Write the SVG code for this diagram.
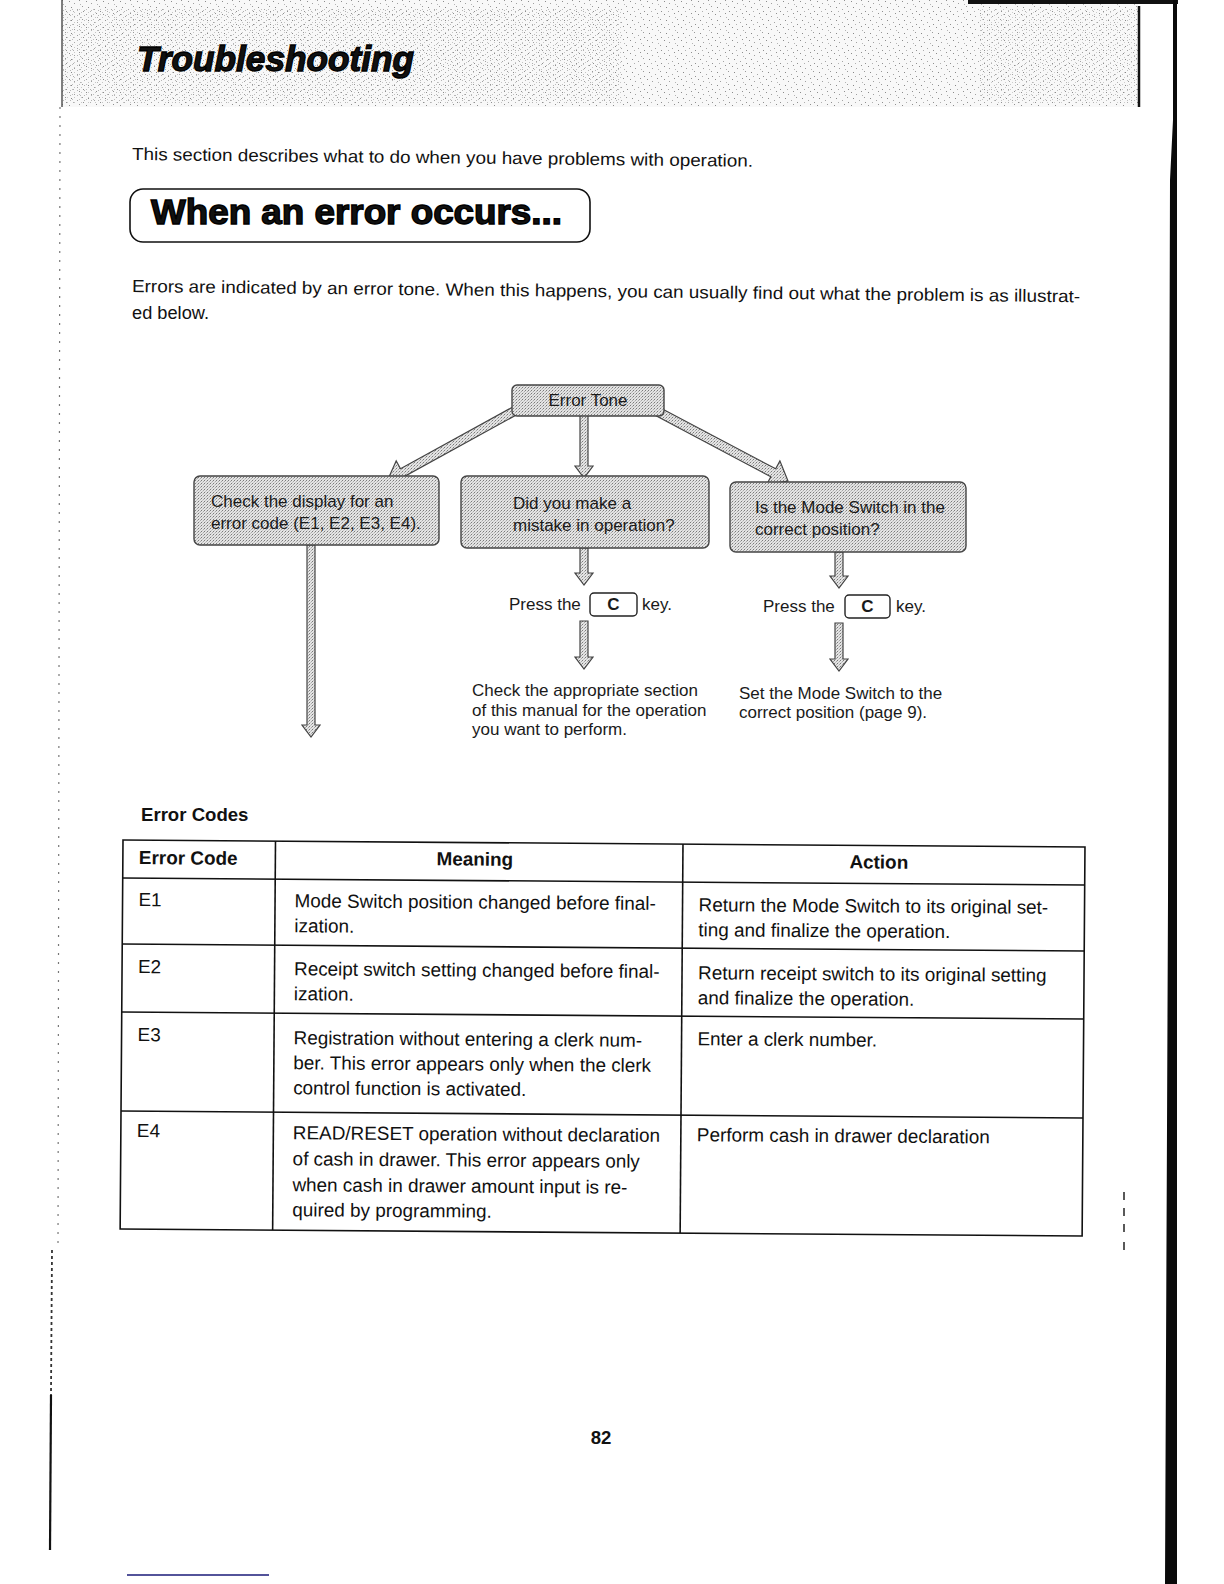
<svg xmlns="http://www.w3.org/2000/svg" width="1224" height="1584" viewBox="0 0 1224 1584">
<defs>
<pattern id="stip" width="3" height="3" patternUnits="userSpaceOnUse">
<rect width="3" height="3" fill="#e4e4e4"/>
<rect x="0" y="0" width="1" height="1" fill="#7a7a7a"/>
<rect x="2" y="1" width="1" height="1" fill="#a8a8a8"/>
<rect x="1" y="2" width="1" height="1" fill="#c2c2c2"/>
</pattern>
<pattern id="hdr" width="17" height="13" patternUnits="userSpaceOnUse">
<rect width="17" height="13" fill="#f8f8f8"/>
<rect x="1" y="1" width="1" height="1" fill="#8c8c8c"/>
<rect x="6" y="3" width="1" height="1" fill="#a0a0a0"/>
<rect x="11" y="0" width="1" height="1" fill="#909090"/>
<rect x="14" y="6" width="1" height="1" fill="#999"/>
<rect x="3" y="7" width="1" height="1" fill="#888"/>
<rect x="9" y="9" width="1" height="1" fill="#a5a5a5"/>
<rect x="15" y="11" width="1" height="1" fill="#8f8f8f"/>
<rect x="5" y="11" width="1" height="1" fill="#b0b0b0"/>
<rect x="12" y="4" width="1" height="1" fill="#b5b5b5"/>
</pattern>
<pattern id="hdr2" width="7" height="5" patternUnits="userSpaceOnUse">
<rect x="0" y="0" width="1" height="1" fill="#9a9a9a"/>
<rect x="4" y="2" width="1" height="1" fill="#b0b0b0"/>
<rect x="2" y="4" width="1" height="1" fill="#a5a5a5"/>
</pattern>
</defs>
<style>
text{font-family:"Liberation Sans",Arial,sans-serif;fill:#111}
.body{font-size:17.5px}
.fc{font-size:17px;fill:#1a1a1a}
.tb{font-size:18.9px}
.th{font-size:18.9px;font-weight:bold}
.box{fill:url(#stip);stroke:#444;stroke-width:1.4}
.ar{fill:url(#stip);stroke:#444;stroke-width:1.2;stroke-linejoin:miter}
.key{fill:#fff;stroke:#222;stroke-width:1.4}
.tl{stroke:#111;stroke-width:1.6;fill:none}
</style>

<!-- page edges -->
<g id="page-edges">
<rect x="62" y="0" width="1076" height="107" fill="url(#hdr)"/>
<rect x="62" y="8" width="560" height="96" fill="url(#hdr2)" opacity="0.7"/>
<rect x="980" y="8" width="158" height="96" fill="url(#hdr2)" opacity="0.6"/>
<line x1="62" y1="0" x2="62" y2="107" stroke="#555" stroke-width="1.5"/>
<line x1="1139" y1="6" x2="1139" y2="107" stroke="#111" stroke-width="2.5"/>
<rect x="968" y="0" width="210" height="4" fill="#111"/>
<polygon points="1173,0 1177,0 1177,1584 1165,1584 1168,900 1170,180 1173,120" fill="#0a0a0a"/>
<line x1="60" y1="107" x2="58" y2="1250" stroke="#777" stroke-width="1.2" stroke-dasharray="2 7"/>
<line x1="52" y1="1250" x2="51" y2="1395" stroke="#333" stroke-width="1.8" stroke-dasharray="3 3"/>
<line x1="51" y1="1395" x2="50" y2="1550" stroke="#111" stroke-width="2.2"/>
<line x1="127" y1="1575" x2="269" y2="1575" stroke="#1a1a78" stroke-width="1.5"/>
<g stroke="#222" stroke-width="1.5">
<line x1="1124" y1="1192" x2="1124" y2="1200"/>
<line x1="1124" y1="1208" x2="1124" y2="1216"/>
<line x1="1124" y1="1224" x2="1124" y2="1232"/>
<line x1="1124" y1="1242" x2="1124" y2="1250"/>
</g>
</g>

<!-- titles and text -->
<g id="title">
<text x="137" y="71" font-size="35" font-weight="bold" font-style="italic" stroke="#000" stroke-width="1.3" textLength="277" lengthAdjust="spacingAndGlyphs">Troubleshooting</text>
</g>
<text class="body" x="132" y="160" textLength="621" lengthAdjust="spacingAndGlyphs" transform="rotate(0.62 132 160)">This section describes what to do when you have problems with operation.</text>
<g id="section-heading">
<rect x="130" y="189" width="460" height="53" rx="13" fill="#fff" stroke="#111" stroke-width="1.6"/>
<text x="151" y="224" font-size="35" font-weight="bold" stroke="#000" stroke-width="1.4" textLength="411" lengthAdjust="spacingAndGlyphs">When an error occurs...</text>
</g>
<text class="body" x="132" y="292" textLength="948" lengthAdjust="spacingAndGlyphs" transform="rotate(0.62 132 292)">Errors are indicated by an error tone. When this happens, you can usually find out what the problem is as illustrat-</text>
<text class="body" x="132" y="319" textLength="77" lengthAdjust="spacingAndGlyphs">ed below.</text>

<!-- connectors -->
<g id="connectors">
<path class="ar" d="M520,403 L400.5,468.7 L396.2,460.8 L389,477 L404.9,484.6 L404.5,476.4 L524,410.7 Z"/>
<path class="ar" d="M580,414 L580,466 L575,466 L584,478 L593,466 L588,466 L588,414 Z"/>
<path class="ar" d="M652,403.5 L775.7,468.8 L779.9,460.9 L788,481 L766.6,484.7 L770.8,476.8 L648,411.5 Z"/>
<path class="ar" d="M307,545 L307,725 L302,725 L311,737 L320,725 L315,725 L315,545 Z"/>
<path class="ar" d="M580,548 L580,573 L575,573 L584,585 L593,573 L588,573 L588,548 Z"/>
<path class="ar" d="M580,621 L580,657 L575,657 L584,669 L593,657 L588,657 L588,621 Z"/>
<path class="ar" d="M835,552 L835,576 L830,576 L839,588 L848,576 L843,576 L843,552 Z"/>
<path class="ar" d="M835,623 L835,659 L830,659 L839,671 L848,659 L843,659 L843,623 Z"/>
</g>

<!-- nodes -->
<g id="node-error-tone">
<rect class="box" x="512" y="385" width="152" height="31" rx="5"/>
<text class="fc" x="588" y="406" text-anchor="middle">Error Tone</text>
</g>
<g id="node-check-display">
<rect class="box" x="194" y="476" width="245" height="69" rx="6"/>
<text class="fc" x="211" y="507">Check the display for an</text>
<text class="fc" x="211" y="529">error code (E1, E2, E3, E4).</text>
</g>
<g id="node-mistake">
<rect class="box" x="461" y="476" width="248" height="72" rx="6"/>
<text class="fc" x="513" y="509">Did you make a</text>
<text class="fc" x="513" y="531">mistake in operation?</text>
</g>
<g id="node-mode-switch">
<rect class="box" x="730" y="482" width="236" height="70" rx="6"/>
<text class="fc" x="755" y="513">Is the Mode Switch in the</text>
<text class="fc" x="755" y="535">correct position?</text>
</g>
<g id="node-press-c-1">
<text class="fc" x="509" y="610">Press the</text>
<rect class="key" x="590" y="593" width="47" height="23" rx="4"/>
<text class="fc" x="613.5" y="610" text-anchor="middle" font-weight="bold">C</text>
<text class="fc" x="642" y="610">key.</text>
</g>
<g id="node-press-c-2">
<text class="fc" x="763" y="612">Press the</text>
<rect class="key" x="845" y="595" width="45" height="23" rx="4"/>
<text class="fc" x="867.5" y="612" text-anchor="middle" font-weight="bold">C</text>
<text class="fc" x="896" y="612">key.</text>
</g>
<g id="node-check-section">
<text class="fc" x="472" y="696">Check the appropriate section</text>
<text class="fc" x="472" y="716">of this manual for the operation</text>
<text class="fc" x="472" y="735">you want to perform.</text>
</g>
<g id="node-set-switch">
<text class="fc" x="739" y="699">Set the Mode Switch to the</text>
<text class="fc" x="739" y="718">correct position (page 9).</text>
</g>

<!-- table -->
<text x="141" y="821" font-size="18.6" font-weight="bold">Error Codes</text>
<g id="error-table" transform="rotate(0.42 123 840)">
<rect class="tl" x="123" y="840" width="962" height="389"/>
<line class="tl" x1="275.5" y1="840" x2="275.5" y2="1229"/>
<line class="tl" x1="683" y1="840" x2="683" y2="1229"/>
<line class="tl" x1="123" y1="878" x2="1085" y2="878"/>
<line class="tl" x1="123" y1="944" x2="1085" y2="944"/>
<line class="tl" x1="123" y1="1012" x2="1085" y2="1012"/>
<line class="tl" x1="123" y1="1111" x2="1085" y2="1111"/>
<text class="th" x="139" y="864">Error Code</text>
<text class="th" x="475" y="863" text-anchor="middle">Meaning</text>
<text class="th" x="879" y="863" text-anchor="middle">Action</text>
<text class="tb" x="139" y="906">E1</text>
<text class="tb" x="295" y="906">Mode Switch position changed before final-</text>
<text class="tb" x="295" y="931">ization.</text>
<text class="tb" x="699" y="907">Return the Mode Switch to its original set-</text>
<text class="tb" x="699" y="932">ting and finalize the operation.</text>
<text class="tb" x="139" y="973">E2</text>
<text class="tb" x="295" y="974">Receipt switch setting changed before final-</text>
<text class="tb" x="295" y="999">ization.</text>
<text class="tb" x="699" y="975">Return receipt switch to its original setting</text>
<text class="tb" x="699" y="1000">and finalize the operation.</text>
<text class="tb" x="139" y="1041">E3</text>
<text class="tb" x="295" y="1043">Registration without entering a clerk num-</text>
<text class="tb" x="295" y="1068">ber. This error appears only when the clerk</text>
<text class="tb" x="295" y="1093">control function is activated.</text>
<text class="tb" x="699" y="1041">Enter a clerk number.</text>
<text class="tb" x="139" y="1137">E4</text>
<text class="tb" x="295" y="1138">READ/RESET operation without declaration</text>
<text class="tb" x="295" y="1164">of cash in drawer. This error appears only</text>
<text class="tb" x="295" y="1190">when cash in drawer amount input is re-</text>
<text class="tb" x="295" y="1215">quired by programming.</text>
<text class="tb" x="699" y="1137">Perform cash in drawer declaration</text>
</g>
<text x="601" y="1444" font-size="18.6" font-weight="bold" text-anchor="middle">82</text>
</svg>
